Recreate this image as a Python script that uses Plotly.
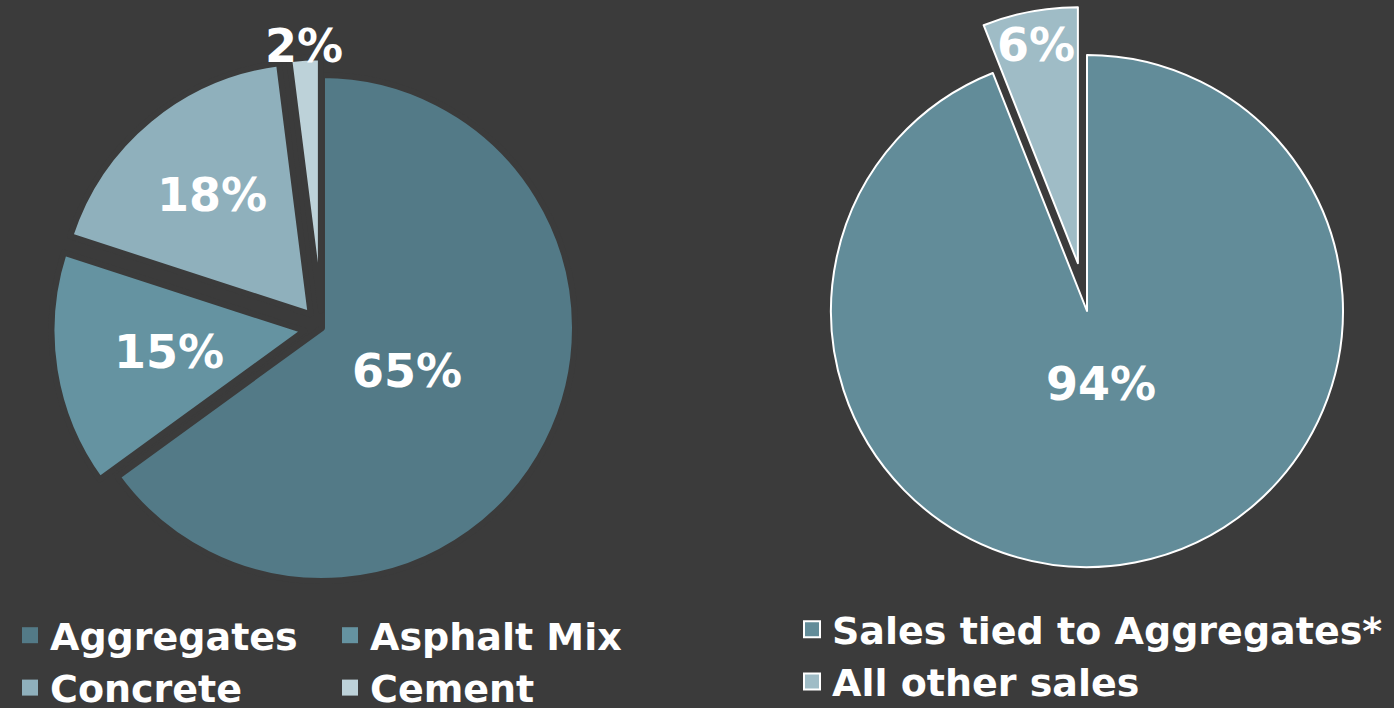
import math
import plotly.graph_objects as go

# Data
left_labels = ["Aggregates", "Asphalt Mix", "Concrete", "Cement"]
left_values = [65, 15, 18, 2]
left_colors = ["#537a87", "#6593a1", "#8fb0bc", "#bdd2d9"]

right_labels = ["Sales tied to Aggregates*", "All other sales"]
right_values = [94, 6]
right_colors = ["#628c99", "#9fbcc6"]

BG = "#3b3b3b"
W, H = 1394, 708
FONT = "DejaVu Sans"

def dom(cx, cy, half):
    return dict(x=[(cx - half) / W, (cx + half) / W],
                y=[1 - (cy + half) / H, 1 - (cy - half) / H])

left_pull = 0.07
right_pull = 0.19
L_CX, L_CY, L_R = 322, 328, 253
R_CX, R_CY, R_R = 1087, 311, 256

fig = go.Figure()
fig.add_trace(go.Pie(
    labels=left_labels, values=left_values, sort=False, direction="clockwise",
    rotation=0, pull=[0, left_pull, left_pull, left_pull],
    marker=dict(colors=left_colors, line=dict(color=BG, width=6)),
    textinfo="none", showlegend=False,
    domain=dom(L_CX, L_CY, L_R * (1 + left_pull)),
    hoverinfo="label+percent",
))
fig.add_trace(go.Pie(
    labels=right_labels, values=right_values, sort=False, direction="clockwise",
    rotation=0, pull=[0, right_pull],
    marker=dict(colors=right_colors, line=dict(color="white", width=2)),
    textinfo="none", showlegend=False,
    domain=dom(R_CX, R_CY, R_R * (1 + right_pull)),
    hoverinfo="label+percent",
))

# Percent labels placed along each slice's mid-angle (computed from data)
def add_labels(values, cx, cy, r, fracs):
    total = sum(values)
    cum = 0
    for v, f in zip(values, fracs):
        mid = math.radians((cum + v / 2) / total * 360)
        cum += v
        px = cx + f * r * math.sin(mid)
        py = cy - f * r * math.cos(mid)
        fig.add_annotation(
            x=px / W, y=1 - py / H, xref="paper", yref="paper",
            text=f"{v / total * 100:.0f}%", showarrow=False,
            xanchor="center", yanchor="middle",
            font=dict(color="white", size=46, family=FONT, weight="bold"),
        )

add_labels(left_values, L_CX, L_CY, 250, [0.38, 0.62, 0.69, 1.13])
add_labels(right_values, R_CX, R_CY, 255, [0.29, 1.06])

# Legend entries
left_cols = {0: "legend", 1: "legend2", 2: "legend", 3: "legend2"}
for i, (lab, col) in enumerate(zip(left_labels, left_colors)):
    fig.add_trace(go.Scatter(
        x=[None], y=[None], mode="markers", name=lab, legendgroup=lab,
        marker=dict(symbol="square", size=16, color=col, line=dict(width=0)),
        legend=left_cols[i], showlegend=True, hoverinfo="skip",
    ))
for lab, col in zip(right_labels, right_colors):
    fig.add_trace(go.Scatter(
        x=[None], y=[None], mode="markers", name=lab, legendgroup=lab,
        marker=dict(symbol="square", size=16, color=col, line=dict(width=2, color="white")),
        legend="legend3", showlegend=True, hoverinfo="skip",
    ))

legend_font = dict(color="white", size=38, family=FONT, weight="bold")
common = dict(orientation="v", xanchor="left", yanchor="top", traceorder="normal",
              font=legend_font, bgcolor="rgba(0,0,0,0)", itemclick=False,
              itemdoubleclick=False)

fig.update_layout(
    width=W, height=H,
    paper_bgcolor=BG, plot_bgcolor=BG,
    margin=dict(l=0, r=0, t=0, b=0, autoexpand=False),
    xaxis=dict(visible=False), yaxis=dict(visible=False),
    legend=dict(x=10 / W, y=1 - 604 / H, tracegroupgap=5, **common),
    legend2=dict(x=330 / W, y=1 - 604 / H, tracegroupgap=5, **common),
    legend3=dict(x=792 / W, y=1 - 598 / H, tracegroupgap=8, **common),
)

fig.write_html(
    "out.html",
    config={"displayModeBar": False},
    post_script="document.body.style.margin='0';document.body.style.background='#3b3b3b';",
)
